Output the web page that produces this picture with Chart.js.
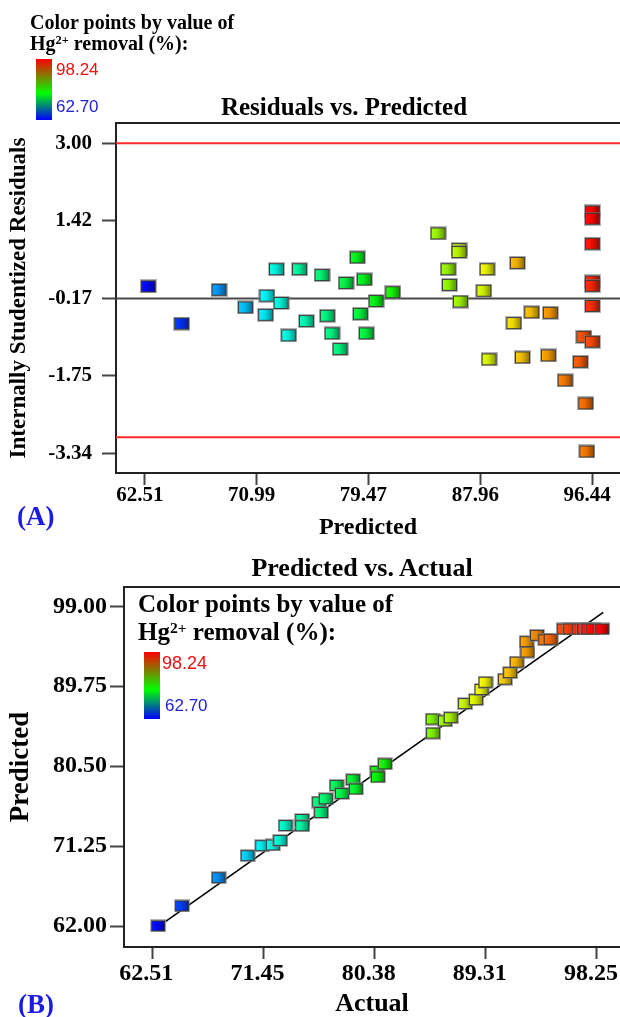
<!DOCTYPE html>
<html>
<head>
<meta charset="utf-8">
<script src="https://cdn.jsdelivr.net/npm/chart.js@4.4.1/dist/chart.umd.min.js"></script>
<style>
  html, body { margin: 0; padding: 0; background: #fff; }
  body { width: 620px; height: 1017px; position: relative; overflow: hidden; font-family: 'Liberation Serif', 'Times New Roman', serif; }
  canvas { position: absolute; left: 0; }
  #grafico_a { top: 0; }
  #grafico_b { top: 545px; }
  .txt { position: absolute; white-space: nowrap; line-height: 1; font-weight: bold; color: #000; }
  .title { transform: translateX(-50%); }
  .bar { position: absolute; width: 16px; background: linear-gradient(to bottom, #ff0000 0%, #00ff00 56%, #0000ff 100%); }
  .val { position: absolute; line-height: 1; font-family: 'Liberation Sans', Arial, sans-serif; white-space: nowrap; }
  .red { color: #e81212; }
  .blue { color: #2222d6; }
  .panel { position: absolute; font-weight: bold; color: #1c1ce0; line-height: 1; font-size: 27px; }
  sup { font-size: 0.62em; vertical-align: 0; position: relative; top: -0.45em; }
</style>
</head>
<body>
<canvas id="grafico_a" width="620" height="545"></canvas>
<canvas id="grafico_b" width="620" height="472"></canvas>

<div class="txt" style="left:30px; top:12px; font-size:20px">Color points by value of</div>
<div class="txt" style="left:30px; top:33px; font-size:20px">Hg<sup>2+</sup> removal (%):</div>
<div class="bar" style="left:36px; top:59px; height:61px"></div>
<div class="val red" style="left:56px; top:61px; font-size:17px">98.24</div>
<div class="val blue" style="left:56px; top:98px; font-size:17px">62.70</div>
<div class="txt title" style="left:344px; top:94px; font-size:25px">Residuals vs. Predicted</div>
<div class="panel" style="left:17px; top:503px">(A)</div>

<div class="txt title" style="left:362px; top:555px; font-size:26px">Predicted vs. Actual</div>
<div class="txt" style="left:138px; top:591px; font-size:25px">Color points by value of</div>
<div class="txt" style="left:138px; top:619px; font-size:25px">Hg<sup>2+</sup> removal (%):</div>
<div class="bar" style="left:144px; top:652px; height:67px"></div>
<div class="val red" style="left:162px; top:654px; font-size:18px">98.24</div>
<div class="val blue" style="left:165px; top:697px; font-size:17px">62.70</div>
<div class="panel" style="left:18px; top:991px">(B)</div>

<script>
// Residuals vs. Predicted
const predictedA = [62.76, 65.30, 68.13, 70.14, 71.77, 72.84, 71.67, 72.49, 74.24, 75.95,
  77.77, 78.63, 79.16, 81.32, 80.05, 78.86, 79.31, 76.35, 76.71, 77.32,
  74.76, 73.42, 84.76, 86.35, 86.35, 85.52, 85.62, 86.45, 88.48, 88.23,
  90.78, 91.87, 93.28, 90.51, 88.63, 91.16, 93.13, 94.40, 95.56, 95.82,
  96.47, 95.97, 96.05, 96.47, 96.47, 96.47, 96.47, 96.47, 96.47]
const residualA = [0.08, -0.68, 0.01, -0.35, -0.11, -0.26, -0.50, 0.43, 0.43, 0.31,
  0.15, 0.67, 0.22, -0.04, -0.22, -0.48, -0.88, -0.52, -0.88, -1.20,
  -0.63, -0.92, 1.16, 0.84, 0.78, 0.43, 0.11, -0.23, 0.43, -0.01,
  0.56, -0.45, -0.46, -0.67, -1.41, -1.37, -1.33, -1.84, -1.46, -0.95,
  -1.05, -2.31, -3.29, -0.32, 0.18, 0.09, 0.95, 1.61, 1.46]
const removalA = [62.9, 64.5, 68.1, 69.7, 71.6, 72.5, 71.1, 72.3, 74.8, 76.3,
  77.9, 79.4, 79.4, 81.3, 79.8, 78.3, 78.2, 75.7, 75.7, 75.9,
  74.0, 72.3, 86.1, 87.3, 87.2, 86.0, 85.7, 86.2, 89.0, 88.2,
  91.7, 91.4, 92.8, 90.2, 88.3, 91.2, 92.5, 93.8, 95.0, 95.4,
  95.6, 94.4, 93.9, 96.5, 96.9, 96.8, 97.6, 98.2, 98.0]

// Predicted vs. Actual
const actualB = [62.98, 64.90, 67.84, 70.17, 71.35, 72.20, 72.79, 73.22, 74.56, 74.56,
  75.92, 76.08, 76.46, 77.32, 77.75, 78.65, 78.87, 80.58, 80.64, 81.20,
  85.05, 85.08, 86.03, 86.50, 87.65, 88.53, 88.97, 89.29, 90.86, 91.27,
  91.80, 92.66, 92.60, 93.43, 94.10, 94.53, 95.58, 96.10, 96.78, 97.20,
  97.56, 97.90, 98.67]
const predictedB = [62.02, 64.33, 67.60, 70.14, 71.30, 71.38, 71.91, 73.63, 74.33, 73.60,
  76.35, 75.14, 76.73, 78.28, 77.35, 78.94, 77.86, 79.91, 79.26, 80.77,
  85.95, 84.33, 85.75, 86.12, 87.75, 88.20, 89.37, 90.22, 90.57, 91.33,
  92.55, 93.71, 94.91, 95.65, 95.14, 95.19, 96.38, 96.38, 96.38, 96.38,
  96.38, 96.38, 96.38]

const colorRange = [62.70, 98.24]
const ticksAX = [62.51, 70.99, 79.47, 87.96, 96.44]
const ticksAY = [-3.34, -1.75, -0.17, 1.42, 3.00]
const ticksBX = [62.51, 71.45, 80.38, 89.31, 98.25]
const ticksBY = [62.00, 71.25, 80.50, 89.75, 99.00]
const limitLinesA = [3.00, -3.00]
const centerLineA = -0.17
const fitLineB = [[63.59, 62.54], [98.75, 98.31]]

const serif = "'Liberation Serif', 'Times New Roman', serif"

// blue -> cyan -> green -> yellow -> red by removal %
function hueFor(v) {
  const t = Math.min(1, Math.max(0, (v - colorRange[0]) / (colorRange[1] - colorRange[0])))
  return 240 * (1 - t)
}

// shaded square marker, drawn once per point
function marker(v, w, h) {
  const c = document.createElement('canvas')
  c.width = w
  c.height = h
  const g = c.getContext('2d')
  const hue = hueFor(v)
  g.fillStyle = 'rgba(130,130,130,0.6)'
  g.fillRect(0, 0, w, h)
  g.fillStyle = '#3a3a3a'
  g.fillRect(1, 1, w - 2, h - 2)
  const grad = g.createLinearGradient(2, 0, w - 2, 0)
  grad.addColorStop(0, `hsl(${hue},100%,52%)`)
  grad.addColorStop(0.45, `hsl(${hue},100%,46%)`)
  grad.addColorStop(1, `hsl(${hue},100%,30%)`)
  g.fillStyle = grad
  g.fillRect(2, 2, w - 4, h - 4)
  return c
}

const topFrame = {
  id: 'topFrame',
  afterDraw(chart) {
    const { ctx, chartArea } = chart
    ctx.save()
    ctx.strokeStyle = '#222'
    ctx.lineWidth = 2
    ctx.beginPath()
    ctx.moveTo(chartArea.left - 1, chartArea.top)
    ctx.lineTo(chartArea.right, chartArea.top)
    ctx.stroke()
    ctx.restore()
  }
}

function axis(o) {
  return {
    type: 'linear',
    min: o.min,
    max: o.max,
    afterBuildTicks: s => { s.ticks = o.ticks.map(v => ({ value: v })) },
    afterFit: s => {
      if (o.width) s.width = o.width
      if (o.height) s.height = o.height
      // labels stay inside the canvas, so no extra room is needed around the plot
      s.paddingLeft = s.paddingRight = s.paddingTop = s.paddingBottom = 0
    },
    ticks: {
      callback: v => v.toFixed(2),
      color: '#000',
      font: { family: serif, weight: 'bold', size: o.tickSize, lineHeight: 1 },
      padding: o.tickPadding,
      labelOffset: o.labelOffset || 0,
      maxRotation: 0,
      autoSkip: false
    },
    grid: { drawOnChartArea: false, drawTicks: true, tickLength: o.tickLength, tickColor: '#444', tickWidth: 2 },
    border: { color: '#222', width: 2 },
    title: {
      display: true,
      text: o.title,
      color: '#000',
      font: { family: serif, weight: 'bold', size: o.titleSize, lineHeight: 1 },
      padding: o.titlePadding
    }
  }
}

const lineSet = (points, color, width) => ({
  data: points,
  showLine: true,
  borderColor: color,
  borderWidth: width,
  pointRadius: 0,
  pointHoverRadius: 0
})

const ctxGraficoA = document.getElementById('grafico_a')
const rangeAX = [60.31, 98.565]

new Chart(ctxGraficoA, {
  type: 'scatter',
  data: {
    datasets: [
      {
        data: predictedA.map((x, i) => ({ x, y: residualA[i] })),
        pointStyle: removalA.map(v => marker(v, 17, 14)),
        pointRadius: 8,
        pointHoverRadius: 8
      },
      lineSet([{ x: rangeAX[0], y: centerLineA }, { x: rangeAX[1], y: centerLineA }], '#4a4a4a', 2),
      ...limitLinesA.map(y => lineSet([{ x: rangeAX[0], y }, { x: rangeAX[1], y }], '#ff2a2a', 2))
    ]
  },
  options: {
    responsive: false,
    animation: false,
    layout: { autoPadding: false, padding: { top: 123, left: 0, right: 0, bottom: 0 } },
    plugins: { legend: { display: false }, tooltip: { enabled: false } },
    scales: {
      x: axis({ min: rangeAX[0], max: rangeAX[1], ticks: ticksAX, height: 72, tickSize: 21, tickPadding: 0,
        labelOffset: -5, tickLength: 12, title: 'Predicted', titleSize: 24, titlePadding: { top: 0, bottom: 5 } }),
      y: axis({ min: -3.73, max: 3.414, ticks: ticksAY, width: 116, tickSize: 21, tickPadding: 10,
        tickLength: 14, title: 'Internally Studentized Residuals', titleSize: 23, titlePadding: { top: 8, bottom: 0 } })
    }
  },
  plugins: [topFrame]
})

const ctxGraficoB = document.getElementById('grafico_b')

new Chart(ctxGraficoB, {
  type: 'scatter',
  data: {
    datasets: [
      {
        data: actualB.map((x, i) => ({ x, y: predictedB[i] })),
        pointStyle: actualB.map(v => marker(v, 16, 13)),
        pointRadius: 8,
        pointHoverRadius: 8
      },
      lineSet(fitLineB.map(([x, y]) => ({ x, y })), '#000', 1.6)
    ]
  },
  options: {
    responsive: false,
    animation: false,
    layout: { autoPadding: false, padding: { top: 42, left: 0, right: 0, bottom: 0 } },
    plugins: { legend: { display: false }, tooltip: { enabled: false } },
    scales: {
      x: axis({ min: 60.235, max: 100.1, ticks: ticksBX, height: 70, tickSize: 24, tickPadding: 3,
        labelOffset: -6, tickLength: 12, title: 'Actual', titleSize: 26, titlePadding: { top: 0, bottom: 0 } }),
      y: axis({ min: 59.57, max: 101.24, ticks: ticksBY, width: 124, tickSize: 24, tickPadding: 3,
        tickLength: 14, title: 'Predicted', titleSize: 27, titlePadding: { top: 8, bottom: 0 } })
    }
  },
  plugins: [topFrame]
})
</script>
</body>
</html>
